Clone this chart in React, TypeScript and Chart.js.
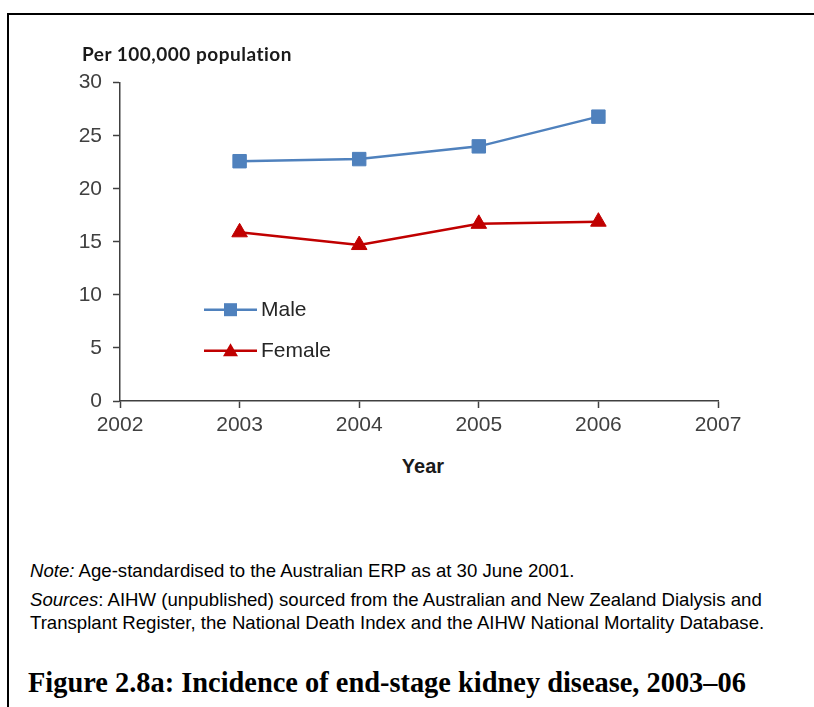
import React, { useEffect, useRef } from "react";
import { Chart, registerables } from "chart.js";

Chart.register(...registerables);

const years = [2003, 2004, 2005, 2006];
const maleValues = [22.6, 22.8, 24.0, 26.8];
const femaleValues = [15.9, 14.7, 16.7, 16.9];
const yTicks = [0, 5, 10, 15, 20, 25, 30];
const xMin = 2002;
const xMax = 2007;
const seriesNames = ["Male", "Female"];
const yAxisTitle = "Per 100,000 population";
const xAxisTitle = "Year";

const MALE = "#4F81BD";
const FEMALE = "#C00000";
const AXIS = "#404040";
const TICK_FONT = "'Liberation Sans', Arial, sans-serif";

const legendPlugin = {
  id: "innerLegend",
  afterDraw(chart: any) {
    const { ctx, chartArea } = chart;
    const x0 = chartArea.left + 84;
    const rows = [chartArea.top + 227, chartArea.top + 268];
    chart.data.datasets.forEach((ds: any, i: number) => {
      const y = rows[i];
      ctx.save();
      ctx.strokeStyle = ds.borderColor;
      ctx.lineWidth = 2.5;
      ctx.beginPath();
      ctx.moveTo(x0, y);
      ctx.lineTo(x0 + 53, y);
      ctx.stroke();
      ctx.fillStyle = ds.backgroundColor;
      const cx = x0 + 26.5;
      if (ds.pointStyle === "rect") {
        ctx.fillRect(cx - 6.5, y - 6.5, 13, 13);
      } else {
        ctx.beginPath();
        ctx.moveTo(cx, y - 7.5);
        ctx.lineTo(cx + 7.5, y + 5.5);
        ctx.lineTo(cx - 7.5, y + 5.5);
        ctx.closePath();
        ctx.fill();
      }
      ctx.fillStyle = "#262626";
      ctx.font = `21px ${TICK_FONT}`;
      ctx.textBaseline = "middle";
      ctx.textAlign = "left";
      ctx.fillText(ds.label, x0 + 57, y + 1);
      ctx.restore();
    });
  },
};

export default function App() {
  const canvasRef = useRef<HTMLCanvasElement | null>(null);

  useEffect(() => {
    if (!canvasRef.current) return;
    const chart = new Chart(canvasRef.current, {
      type: "line",
      data: {
        datasets: [
          {
            label: seriesNames[0],
            data: years.map((y, i) => ({ x: y, y: maleValues[i] })),
            borderColor: MALE,
            backgroundColor: MALE,
            borderWidth: 2.5,
            pointStyle: "rect",
            pointRadius: 9.5,
            pointBorderWidth: 1,
            tension: 0,
          },
          {
            label: seriesNames[1],
            data: years.map((y, i) => ({ x: y, y: femaleValues[i] })),
            borderColor: FEMALE,
            backgroundColor: FEMALE,
            borderWidth: 2.5,
            pointStyle: "triangle",
            pointRadius: 9,
            pointBorderWidth: 1,
            tension: 0,
          },
        ],
      },
      options: {
        responsive: false,
        animation: false,
        layout: { padding: { left: 0, right: 96, top: 82.7, bottom: 0 } },
        plugins: {
          legend: { display: false },
          tooltip: { enabled: false },
          title: { display: false },
        },
        scales: {
          x: {
            type: "linear",
            min: xMin,
            max: xMax,
            ticks: {
              stepSize: 1,
              color: AXIS,
              font: { size: 21, family: TICK_FONT },
              padding: 5,
              callback: (v: any) => String(v),
            },
            grid: {
              drawOnChartArea: false,
              drawTicks: true,
              tickLength: 7,
              tickColor: AXIS,
              tickWidth: 1.5,
            },
            border: { display: true, color: AXIS, width: 1.5 },
            afterFit: (s: any) => {
              s.height = 450 - 401;
            },
          },
          y: {
            min: 0,
            max: 30,
            afterBuildTicks: (s: any) => {
              s.ticks = yTicks.map((v) => ({ value: v }));
            },
            ticks: {
              color: AXIS,
              font: { size: 21, family: TICK_FONT },
              padding: 11,
            },
            grid: {
              drawOnChartArea: false,
              drawTicks: true,
              tickLength: 7,
              tickColor: AXIS,
              tickWidth: 1.5,
            },
            border: { display: true, color: AXIS, width: 1.5 },
            afterFit: (s: any) => {
              s.width = 120;
            },
          },
        },
      },
      plugins: [legendPlugin],
    });
    return () => chart.destroy();
  }, []);

  return (
    <div
      style={{
        position: "absolute",
        left: 0,
        top: 0,
        width: 814,
        height: 707,
        overflow: "hidden",
        background: "#fff",
      }}
    >
      <div
        style={{
          position: "absolute",
          left: 7,
          top: 13,
          width: 900,
          height: 800,
          borderLeft: "2.5px solid #000",
          borderTop: "2.5px solid #000",
        }}
      />
      <canvas
        ref={canvasRef}
        width={814}
        height={450}
        style={{ position: "absolute", left: 0, top: 0, width: 814, height: 450 }}
      />
      <div
        style={{
          position: "absolute",
          left: 82,
          top: 42,
          fontFamily: "Lato, 'Open Sans', sans-serif",
          fontWeight: 700,
          fontSize: 19,
          letterSpacing: 0.5,
          lineHeight: "24px",
          color: "#1a1a1a",
          whiteSpace: "nowrap",
        }}
      >
        {yAxisTitle}
      </div>
      <div
        style={{
          position: "absolute",
          left: 323,
          width: 200,
          top: 454,
          textAlign: "center",
          fontFamily: TICK_FONT,
          fontWeight: 700,
          fontSize: 20,
          lineHeight: "24px",
          color: "#1a1a1a",
        }}
      >
        {xAxisTitle}
      </div>
      <div
        style={{
          position: "absolute",
          left: 30,
          top: 560,
          fontFamily: TICK_FONT,
          fontSize: 18.6,
          lineHeight: "22px",
          color: "#000",
          whiteSpace: "nowrap",
        }}
      >
        <div>
          <i>Note:</i> Age-standardised to the Australian ERP as at 30 June 2001.
        </div>
        <div style={{ marginTop: 7 }}>
          <i>Sources</i>: AIHW (unpublished) sourced from the Australian and New Zealand Dialysis and
        </div>
        <div style={{ marginTop: 1 }}>
          Transplant Register, the National Death Index and the AIHW National Mortality Database.
        </div>
      </div>
      <div
        style={{
          position: "absolute",
          left: 28,
          top: 667,
          fontFamily: "'Liberation Serif', 'DejaVu Serif', serif",
          fontWeight: 700,
          fontSize: 28.4,
          lineHeight: "32px",
          color: "#000",
          whiteSpace: "nowrap",
        }}
      >
        Figure 2.8a: Incidence of end-stage kidney disease, 2003–06
      </div>
    </div>
  );
}
